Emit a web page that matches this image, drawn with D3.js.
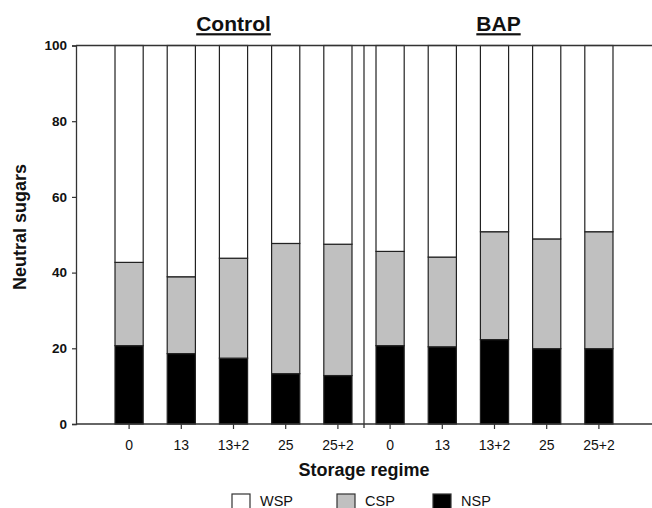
<!DOCTYPE html>
<html>
<head>
<meta charset="utf-8">
<script src="https://cdn.jsdelivr.net/npm/d3@7.9.0/dist/d3.min.js"></script>
<style>
  body { margin: 0; background: #fff; }
  svg { display: block; font-family: "Liberation Sans", Arial, sans-serif; }
</style>
</head>
<body>
<div id="chart"></div>
<script>
// treatment groups and storage regimes (weeks)
const groups = ['Control', 'BAP'];
const regimes = ['0', '13', '13+2', '25', '25+2'];

// neutral sugar fractions (%), order: Control 0..25+2 then BAP 0..25+2
const nspValues = [20.7, 18.6, 17.4, 13.3, 12.8, 20.7, 20.4, 22.3, 19.9, 19.9];
const cspValues = [22.0, 20.3, 26.4, 34.4, 34.7, 24.9, 23.7, 28.5, 29.0, 30.9];
const wspValues = [57.3, 61.1, 56.2, 52.3, 52.5, 54.4, 55.9, 49.2, 51.1, 49.2];

const yTicks = [0, 20, 40, 60, 80, 100];
const keys = ['NSP', 'CSP', 'WSP'];
const legendKeys = ['WSP', 'CSP', 'NSP'];
const fills = { WSP: '#ffffff', CSP: '#c0c0c0', NSP: '#000000' };

const width = 652;
const height = 508;

const rows = [];
groups.forEach((g, gi) => {
  regimes.forEach((r, ri) => {
    const i = gi * regimes.length + ri;
    rows.push({ id: g + '|' + r, group: g, regime: r, NSP: nspValues[i], CSP: cspValues[i], WSP: wspValues[i] });
  });
});

const svg = d3.select('#chart')
  .append('svg')
  .attr('width', width)
  .attr('height', height);

const axisLeft = 76;
const x = d3.scaleBand()
  .domain(rows.map(d => d.id))
  .range([103, 625])
  .paddingInner(0.46)
  .paddingOuter(0.23);

const y = d3.scaleLinear().domain([0, 100]).range([424, 45.5]);

const stack = d3.stack().keys(keys)(rows);

// bars
svg.append('g')
  .selectAll('g')
  .data(stack)
  .join('g')
  .attr('fill', d => fills[d.key])
  .selectAll('rect')
  .data(d => d)
  .join('rect')
  .attr('x', d => x(d.data.id))
  .attr('width', x.bandwidth())
  .attr('y', d => y(d[1]))
  .attr('height', d => y(d[0]) - y(d[1]))
  .attr('stroke', '#222')
  .attr('stroke-width', 1.2);

// frame top line
svg.append('line')
  .attr('x1', axisLeft).attr('x2', width + 5)
  .attr('y1', y(100)).attr('y2', y(100))
  .attr('stroke', '#333').attr('stroke-width', 1.3);

// group separator
const sepX = (x(groups[0] + '|' + regimes[regimes.length - 1]) + x.bandwidth() + x(groups[1] + '|' + regimes[0])) / 2;
svg.append('line')
  .attr('x1', sepX).attr('x2', sepX)
  .attr('y1', y(100)).attr('y2', y(0) + 4)
  .attr('stroke', '#222').attr('stroke-width', 1.2);

// y axis
const yAxis = svg.append('g')
  .attr('transform', `translate(${axisLeft},0)`)
  .call(d3.axisLeft(y).tickValues(yTicks).tickSize(4).tickPadding(5));
yAxis.select('.domain').attr('stroke', '#333').attr('stroke-width', 1.3);
yAxis.selectAll('.tick line').attr('stroke', '#333').attr('stroke-width', 1.2);
yAxis.selectAll('.tick text')
  .attr('fill', '#111')
  .style('font-size', '13.5px')
  .style('font-weight', 'bold');

// x axis line (runs to the right edge)
svg.append('line')
  .attr('x1', axisLeft).attr('x2', width + 5)
  .attr('y1', y(0)).attr('y2', y(0))
  .attr('stroke', '#333').attr('stroke-width', 1.3);

const xAxis = svg.append('g')
  .attr('transform', `translate(0,${y(0)})`)
  .call(d3.axisBottom(x).tickSize(5).tickPadding(11).tickFormat(id => id.split('|')[1]));
xAxis.select('.domain').remove();
xAxis.selectAll('.tick line').attr('stroke', '#333').attr('stroke-width', 1.2);
xAxis.selectAll('.tick text')
  .attr('fill', '#111')
  .style('font-size', '14px');

// group titles
groups.forEach(g => {
  const cx = x(g + '|' + regimes[2]) + x.bandwidth() / 2 + (g === 'BAP' ? 4 : 0);
  const t = svg.append('text')
    .attr('x', cx)
    .attr('y', 31)
    .attr('text-anchor', 'middle')
    .attr('fill', '#111')
    .style('font-size', '21px')
    .style('font-weight', 'bold')
    .text(g);
  const w = t.node().getComputedTextLength();
  svg.append('rect')
    .attr('x', cx - w / 2)
    .attr('y', 33.2)
    .attr('width', w)
    .attr('height', 2.2)
    .attr('fill', '#111');
});

// axis titles
svg.append('text')
  .attr('x', sepX)
  .attr('y', 476)
  .attr('text-anchor', 'middle')
  .attr('fill', '#111')
  .style('font-size', '18px')
  .style('font-weight', 'bold')
  .text('Storage regime');

svg.append('text')
  .attr('transform', `translate(26,${227}) rotate(-90)`)
  .attr('text-anchor', 'middle')
  .attr('fill', '#111')
  .style('font-size', '18px')
  .style('font-weight', 'bold')
  .text('Neutral sugars');

// legend
const legendX = [232, 337, 433];
const legend = svg.append('g')
  .selectAll('g')
  .data(legendKeys)
  .join('g')
  .attr('transform', (d, i) => `translate(${legendX[i]},494)`);
legend.append('rect')
  .attr('width', 18).attr('height', 18)
  .attr('fill', d => fills[d])
  .attr('stroke', '#333').attr('stroke-width', 1.2);
legend.append('text')
  .attr('x', 28)
  .attr('y', 11.5)
  .attr('fill', '#111')
  .style('font-size', '14.5px')
  .text(d => d);
</script>
</body>
</html>
